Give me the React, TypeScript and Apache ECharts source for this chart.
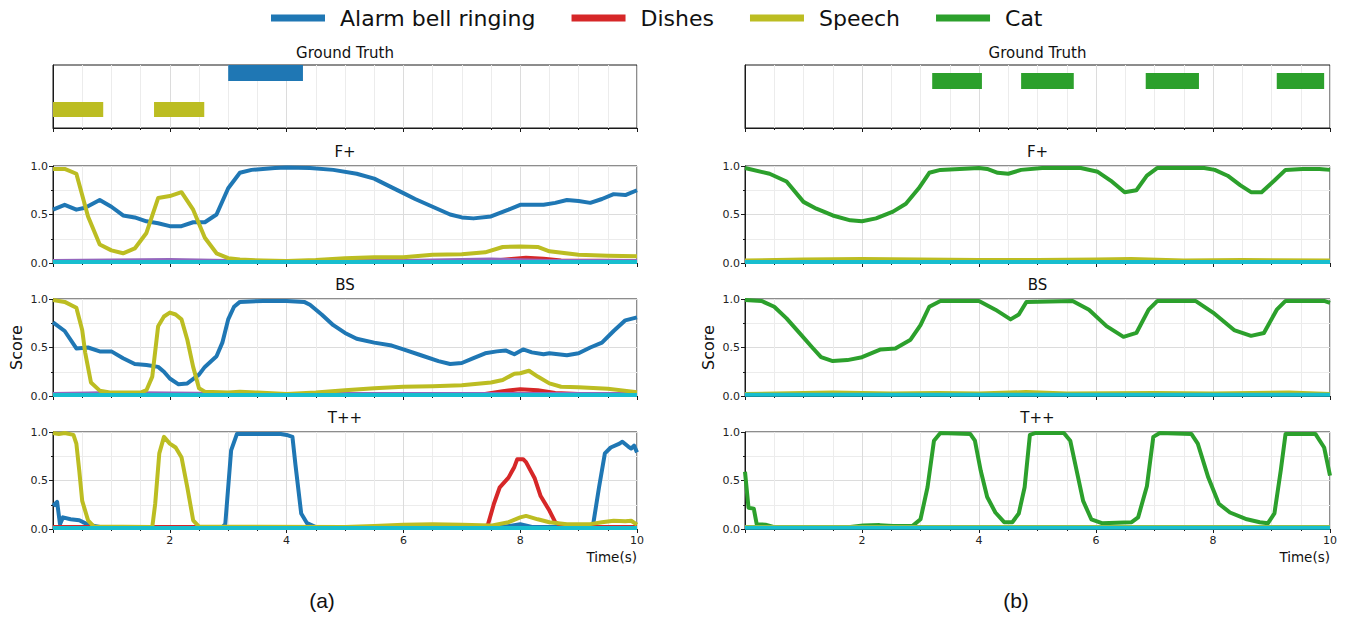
import React, { useEffect, useRef } from "react";
import * as echarts from "echarts";

// ---------- legend / classes ----------
const LEGEND_NAMES = ["Alarm bell ringing", "Dishes", "Speech", "Cat"];
const PANEL_TITLES = ["Ground Truth", "F+", "BS", "T++"];
const SUB_LABELS = ["(a)", "(b)"];

// ---------- ground truth segments [start, end] (s) ----------
const gtA_alarm = [[3.0, 4.28]];
const gtA_speech = [[0, 0.86], [1.73, 2.59]];
const gtB_cat = [[3.2, 4.05], [4.72, 5.62], [6.85, 7.76], [9.09, 9.9]];

// ---------- (a) F+ ----------
const fpA_alarm = [[0,0.55],[0.2,0.6],[0.4,0.55],[0.55,0.57],[0.8,0.65],[1.0,0.58],[1.2,0.49],[1.4,0.47],[1.6,0.43],[1.8,0.41],[2.0,0.38],[2.2,0.38],[2.4,0.42],[2.6,0.42],[2.8,0.5],[3.0,0.77],[3.2,0.93],[3.4,0.96],[3.8,0.98],[4.0,0.985],[4.4,0.98],[4.8,0.96],[5.2,0.92],[5.5,0.87],[5.8,0.78],[6.0,0.72],[6.2,0.66],[6.5,0.58],[6.8,0.5],[7.0,0.47],[7.2,0.46],[7.5,0.48],[7.8,0.55],[8.0,0.6],[8.2,0.6],[8.4,0.6],[8.6,0.62],[8.8,0.65],[9.0,0.64],[9.2,0.62],[9.4,0.66],[9.6,0.71],[9.8,0.7],[10,0.75]];
const fpA_dishes = [[0,0.02],[7.5,0.02],[7.8,0.04],[8.1,0.055],[8.4,0.045],[8.7,0.025],[10,0.02]];
const fpA_dog = [[0,0.02],[1,0.025],[2,0.03],[3,0.02],[6,0.02],[7.5,0.035],[8.5,0.02],[10,0.02]];
const fpA_speech = [[0,0.97],[0.2,0.97],[0.4,0.92],[0.6,0.48],[0.8,0.19],[1.0,0.13],[1.2,0.1],[1.4,0.15],[1.6,0.31],[1.8,0.67],[2.0,0.69],[2.2,0.73],[2.4,0.55],[2.6,0.26],[2.8,0.1],[3.0,0.05],[3.2,0.035],[3.6,0.025],[4.0,0.02],[4.5,0.03],[5.0,0.05],[5.5,0.06],[6.0,0.06],[6.5,0.085],[7.0,0.09],[7.4,0.11],[7.7,0.165],[8.0,0.17],[8.3,0.165],[8.5,0.12],[9.0,0.085],[9.5,0.075],[10,0.07]];
const fpA_vacuum = [[0,0.01],[10,0.01]];

// ---------- (a) BS ----------
const bsA_alarm = [[0,0.76],[0.2,0.67],[0.4,0.49],[0.6,0.5],[0.8,0.46],[1.0,0.46],[1.2,0.39],[1.4,0.33],[1.6,0.32],[1.8,0.3],[1.9,0.25],[2.0,0.18],[2.15,0.12],[2.3,0.13],[2.5,0.22],[2.6,0.3],[2.8,0.41],[2.9,0.55],[3.0,0.79],[3.1,0.92],[3.2,0.97],[3.6,0.98],[4.0,0.98],[4.3,0.97],[4.4,0.94],[4.6,0.84],[4.8,0.73],[5.0,0.65],[5.2,0.59],[5.5,0.55],[5.8,0.52],[6.0,0.48],[6.3,0.42],[6.6,0.36],[6.8,0.33],[7.0,0.34],[7.2,0.39],[7.4,0.44],[7.6,0.46],[7.75,0.47],[7.9,0.43],[8.05,0.48],[8.2,0.45],[8.4,0.43],[8.5,0.44],[8.8,0.42],[9.0,0.44],[9.2,0.5],[9.4,0.55],[9.6,0.67],[9.8,0.78],[10,0.81]];
const bsA_dishes = [[0,0.02],[7.4,0.02],[7.7,0.05],[8.0,0.07],[8.3,0.06],[8.6,0.03],[9,0.02],[10,0.02]];
const bsA_dog = [[0,0.02],[0.6,0.025],[1.0,0.03],[2,0.025],[3,0.02],[10,0.02]];
const bsA_speech = [[0,0.99],[0.2,0.97],[0.4,0.91],[0.5,0.68],[0.55,0.45],[0.65,0.14],[0.8,0.055],[1.0,0.035],[1.5,0.035],[1.6,0.06],[1.7,0.2],[1.8,0.72],[1.9,0.82],[2.0,0.86],[2.1,0.84],[2.2,0.79],[2.3,0.58],[2.4,0.3],[2.5,0.08],[2.6,0.045],[3.0,0.035],[3.2,0.045],[3.5,0.035],[4.0,0.02],[4.5,0.035],[5.0,0.06],[5.5,0.08],[6.0,0.095],[6.5,0.1],[7.0,0.11],[7.5,0.14],[7.7,0.165],[7.9,0.23],[8.0,0.235],[8.15,0.26],[8.3,0.2],[8.5,0.13],[8.7,0.095],[9.0,0.09],[9.5,0.075],[10,0.04]];
const bsA_vacuum = [[0,0.01],[10,0.01]];

// ---------- (a) T++ ----------
const tpA_alarm = [[0,0.24],[0.07,0.28],[0.12,0.05],[0.17,0.12],[0.3,0.1],[0.45,0.09],[0.6,0.045],[0.8,0.02],[2.9,0.02],[2.95,0.05],[3.05,0.81],[3.15,0.98],[3.3,0.98],[3.9,0.98],[4.0,0.97],[4.1,0.95],[4.15,0.67],[4.25,0.16],[4.35,0.06],[4.5,0.02],[7.7,0.02],[8.0,0.05],[8.2,0.02],[9.2,0.02],[9.25,0.05],[9.35,0.43],[9.45,0.78],[9.55,0.84],[9.7,0.88],[9.75,0.9],[9.85,0.85],[9.9,0.83],[9.95,0.86],[10,0.79]];
const tpA_dishes = [[0,0.02],[7.4,0.02],[7.45,0.05],[7.55,0.26],[7.65,0.43],[7.8,0.53],[7.9,0.64],[7.95,0.72],[8.05,0.72],[8.1,0.69],[8.25,0.52],[8.35,0.34],[8.5,0.19],[8.6,0.07],[8.7,0.035],[8.8,0.02],[10,0.02]];
const tpA_speech = [[0,0.99],[0.1,0.98],[0.2,0.99],[0.35,0.97],[0.4,0.88],[0.45,0.6],[0.5,0.29],[0.6,0.09],[0.7,0.025],[1.7,0.02],[1.75,0.26],[1.82,0.78],[1.9,0.95],[2.0,0.88],[2.1,0.84],[2.2,0.74],[2.3,0.43],[2.4,0.09],[2.5,0.025],[5.0,0.02],[5.5,0.03],[6.0,0.045],[6.5,0.05],[7.0,0.045],[7.5,0.035],[7.8,0.07],[8.0,0.12],[8.1,0.135],[8.3,0.1],[8.5,0.07],[8.8,0.05],[9.2,0.05],[9.4,0.07],[9.6,0.085],[9.8,0.08],[9.9,0.085],[10,0.045]];
const tpA_vacuum = [[0,0.01],[10,0.01]];

// ---------- (b) F+ ----------
const fpB_cat = [[0,0.98],[0.42,0.92],[0.71,0.84],[1.0,0.63],[1.22,0.56],[1.5,0.49],[1.8,0.44],[2.0,0.43],[2.24,0.46],[2.53,0.53],[2.75,0.61],[2.97,0.77],[3.15,0.93],[3.34,0.96],[4.0,0.98],[4.14,0.97],[4.32,0.93],[4.5,0.92],[4.72,0.96],[5.08,0.98],[5.74,0.98],[6.03,0.94],[6.25,0.85],[6.49,0.73],[6.69,0.75],[6.87,0.9],[7.05,0.98],[7.85,0.98],[8.03,0.96],[8.25,0.9],[8.47,0.8],[8.65,0.73],[8.83,0.73],[9.05,0.85],[9.24,0.96],[9.53,0.97],[9.82,0.97],[10,0.96]];
const fpB_speech = [[0,0.025],[1,0.035],[2,0.04],[3,0.035],[4,0.03],[5,0.03],[6,0.035],[6.6,0.04],[7.5,0.025],[8.5,0.03],[10,0.025]];
const fpB_vacuum = [[0,0.01],[10,0.01]];

// ---------- (b) BS ----------
const bsB_cat = [[0,0.99],[0.28,0.98],[0.5,0.92],[0.71,0.8],[0.93,0.65],[1.15,0.5],[1.3,0.4],[1.5,0.36],[1.75,0.37],[2.0,0.4],[2.32,0.48],[2.57,0.49],[2.83,0.58],[3.0,0.73],[3.15,0.92],[3.34,0.98],[4.0,0.98],[4.28,0.89],[4.54,0.79],[4.68,0.84],[4.81,0.97],[5.6,0.98],[5.88,0.89],[6.18,0.72],[6.47,0.61],[6.69,0.65],[6.9,0.89],[7.05,0.98],[7.7,0.98],[8.0,0.86],[8.36,0.68],[8.65,0.62],[8.87,0.65],[9.09,0.89],[9.24,0.98],[9.9,0.98],[10,0.96]];
const bsB_speech = [[0,0.02],[1.5,0.035],[2.5,0.025],[3.3,0.03],[4,0.025],[4.8,0.04],[5.5,0.025],[7,0.03],[8,0.025],[9.3,0.035],[10,0.02]];
const bsB_vacuum = [[0,0.012],[10,0.012]];

// ---------- (b) T++ ----------
const tpB_cat = [[0,0.59],[0.06,0.22],[0.15,0.21],[0.2,0.05],[0.35,0.045],[0.5,0.02],[1.8,0.02],[2.02,0.035],[2.3,0.04],[2.53,0.03],[2.86,0.03],[3.0,0.1],[3.12,0.43],[3.23,0.91],[3.34,0.99],[3.85,0.98],[3.93,0.91],[4.03,0.6],[4.14,0.33],[4.28,0.17],[4.43,0.07],[4.57,0.07],[4.68,0.16],[4.78,0.43],[4.87,0.97],[4.97,0.99],[5.45,0.99],[5.56,0.91],[5.67,0.6],[5.78,0.29],[5.92,0.1],[6.1,0.06],[6.61,0.07],[6.72,0.12],[6.87,0.44],[6.98,0.95],[7.09,0.99],[7.63,0.98],[7.74,0.88],[7.92,0.53],[8.1,0.26],[8.29,0.17],[8.58,0.1],[8.8,0.07],[8.94,0.06],[9.05,0.16],[9.16,0.61],[9.24,0.98],[9.75,0.98],[9.9,0.84],[10,0.55]];
const tpB_speech = [[0,0.02],[10,0.02]];
const tpB_vacuum = [[0,0.012],[10,0.012]];

// ---------- styles ----------
const COLORS: Record<string, string> = {
  "Alarm bell ringing": "#1f77b4",
  "Dishes": "#d62728",
  "Speech": "#bcbd22",
  "Cat": "#2ca02c",
  "Dog": "#9467bd",
  "Vacuum cleaner": "#17becf",
};
const FONT = "DejaVu Sans";
const COL_X = [53, 745];
const COL_W = [584, 585];
const ROW_TOP = [65, 166, 299, 432];
const ROW_H = [63, 97, 97, 97];
const GT_BANDS: Record<string, [number, number]> = {
  "Alarm bell ringing": [0.746, 1.0],
  "Speech": [0.175, 0.413],
  "Cat": [0.62, 0.873],
};

const panelSeries = [
  [
    null,
    [["Alarm bell ringing", fpA_alarm], ["Dishes", fpA_dishes], ["Dog", fpA_dog], ["Speech", fpA_speech], ["Vacuum cleaner", fpA_vacuum]],
    [["Alarm bell ringing", bsA_alarm], ["Dishes", bsA_dishes], ["Dog", bsA_dog], ["Speech", bsA_speech], ["Vacuum cleaner", bsA_vacuum]],
    [["Alarm bell ringing", tpA_alarm], ["Dishes", tpA_dishes], ["Speech", tpA_speech], ["Vacuum cleaner", tpA_vacuum]],
  ],
  [
    null,
    [["Cat", fpB_cat], ["Speech", fpB_speech], ["Vacuum cleaner", fpB_vacuum]],
    [["Cat", bsB_cat], ["Speech", bsB_speech], ["Vacuum cleaner", bsB_vacuum]],
    [["Cat", tpB_cat], ["Speech", tpB_speech], ["Vacuum cleaner", tpB_vacuum]],
  ],
] as any[];

const gtSeries = [
  [["Alarm bell ringing", gtA_alarm], ["Speech", gtA_speech]],
  [["Cat", gtB_cat]],
] as any[];

function buildOption() {
  const grids: any[] = [];
  const xAxes: any[] = [];
  const yAxes: any[] = [];
  const series: any[] = [];
  const graphics: any[] = [];

  for (let c = 0; c < 2; c++) {
    for (let r = 0; r < 4; r++) {
      const idx = grids.length;
      const isGT = r === 0;
      const isBottom = r === 3;
      grids.push({
        left: COL_X[c], top: ROW_TOP[r], width: COL_W[c], height: ROW_H[r],
        show: true, borderColor: "#1a1a1a", borderWidth: 1, backgroundColor: "transparent",
        containLabel: false,
      });
      xAxes.push({
        type: "value", gridIndex: idx, min: 0, max: 10, interval: 2,
        axisLine: { show: true, onZero: false, lineStyle: { color: "#1a1a1a", width: 1 } },
        axisTick: { show: true, length: 4, lineStyle: { color: "#1a1a1a" } },
        minorTick: { show: true, splitNumber: 4, length: 2, lineStyle: { color: "#1a1a1a" } },
        splitLine: { show: true, lineStyle: { color: "#dcdcdc", width: 1 } },
        minorSplitLine: { show: true, lineStyle: { color: "#ececec", width: 1 } },
        axisLabel: {
          show: isBottom, fontFamily: FONT, fontSize: 11, color: "#222", margin: 6,
          showMaxLabel: true, showMinLabel: true,
          formatter: (v: number) => (v === 0 ? "" : String(v)),
        },
      });
      if (isGT) {
        yAxes.push({
          type: "value", gridIndex: idx, min: 0, max: 1,
          axisLine: { show: true, lineStyle: { color: "#1a1a1a" } },
          axisTick: { show: false }, axisLabel: { show: false }, splitLine: { show: false },
        });
      } else {
        yAxes.push({
          type: "value", gridIndex: idx, min: 0, max: 1, interval: 0.5,
          axisLine: { show: true, onZero: false, lineStyle: { color: "#1a1a1a", width: 1 } },
          axisTick: { show: true, length: 4, lineStyle: { color: "#1a1a1a" } },
          minorTick: { show: true, splitNumber: 2, length: 2, lineStyle: { color: "#1a1a1a" } },
          splitLine: { show: true, lineStyle: { color: "#dcdcdc", width: 1 } },
          minorSplitLine: { show: true, lineStyle: { color: "#ececec", width: 1 } },
          axisLabel: {
            fontFamily: FONT, fontSize: 11, color: "#222", margin: 5,
            formatter: (v: number) => v.toFixed(1),
          },
          name: r === 2 ? "Score" : "",
          nameLocation: "middle", nameGap: 29,
          nameTextStyle: { fontFamily: FONT, fontSize: 16, color: "#111" },
        });
      }

      if (isGT) {
        for (const [name, segs] of gtSeries[c]) {
          const band = GT_BANDS[name];
          const color = COLORS[name];
          series.push({
            type: "custom", name, xAxisIndex: idx, yAxisIndex: idx,
            itemStyle: { color },
            encode: { x: [0, 1] },
            data: segs,
            renderItem: (_p: any, api: any) => {
              const a = api.coord([api.value(0), band[1]]);
              const b = api.coord([api.value(1), band[0]]);
              return {
                type: "rect",
                shape: { x: a[0], y: a[1], width: b[0] - a[0], height: b[1] - a[1] },
                style: { fill: color },
              };
            },
          });
        }
      } else {
        for (const [name, data] of panelSeries[c][r]) {
          series.push({
            type: "line", name, xAxisIndex: idx, yAxisIndex: idx,
            data, showSymbol: false, symbol: "none", clip: true,
            lineStyle: { width: 4, color: COLORS[name], cap: "butt", join: "round" },
            itemStyle: { color: COLORS[name] },
            emphasis: { disabled: true },
          });
        }
      }

      graphics.push({
        type: "text", x: COL_X[c] + COL_W[c] / 2, y: ROW_TOP[r] - (isGT ? 12 : 14),
        style: {
          text: PANEL_TITLES[r], fontFamily: FONT, fontSize: 15, fill: "#111",
          textAlign: "center", textVerticalAlign: "middle",
        },
      });
    }
    graphics.push({
      type: "text", x: COL_X[c] + COL_W[c], y: 557,
      style: { text: "Time(s)", fontFamily: FONT, fontSize: 13.5, fill: "#111", textAlign: "right", textVerticalAlign: "middle" },
    });
    graphics.push({
      type: "text", x: c === 0 ? 322 : 1016, y: 600,
      style: { text: SUB_LABELS[c], fontFamily: "Liberation Sans", fontSize: 21, fill: "#111", textAlign: "center", textVerticalAlign: "middle" },
    });
  }

  return {
    animation: false,
    backgroundColor: "#ffffff",
    legend: {
      data: LEGEND_NAMES.map((n) => ({ name: n, icon: "rect" })),
      left: 266, top: 2, itemWidth: 54, itemHeight: 7, itemGap: 36,
      selectedMode: false,
      textStyle: { fontFamily: FONT, fontSize: 22, color: "#111", padding: [0, 0, 0, 10] },
    },
    grid: grids,
    xAxis: xAxes,
    yAxis: yAxes,
    series,
    graphic: graphics,
  };
}

export default function App() {
  const ref = useRef<HTMLDivElement>(null);
  useEffect(() => {
    if (!ref.current) return;
    const chart = echarts.init(ref.current, null, { renderer: "svg" });
    chart.setOption(buildOption() as any);
    return () => chart.dispose();
  }, []);
  return (
    <div
      ref={ref}
      style={{ position: "fixed", left: 0, top: 0, width: 1349, height: 617, background: "#fff" }}
    />
  );
}
